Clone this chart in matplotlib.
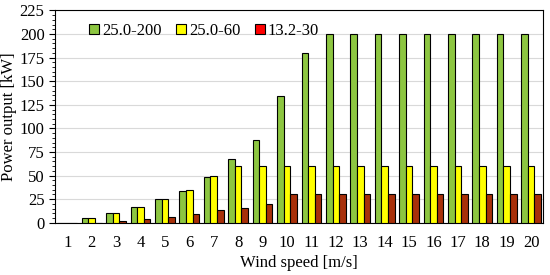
import numpy as np
import matplotlib.pyplot as plt
from matplotlib.ticker import MultipleLocator

plt.rcParams['font.family'] = ['Liberation Serif', 'DejaVu Serif']

wind_speed = list(range(1, 21))
p_200 = [0, 5, 10, 17, 25, 34, 49, 68, 88, 134, 180, 200, 200, 200, 200, 200, 200, 200, 200, 200]
p_60 = [0, 5, 10, 17, 25, 35, 50, 60, 60, 60, 60, 60, 60, 60, 60, 60, 60, 60, 60, 60]
p_30 = [0, 0, 2, 4, 6, 9, 13, 16, 20, 30, 30, 30, 30, 30, 30, 30, 30, 30, 30, 30]
labels = ["25.0-200", "25.0-60", "13.2-30"]

fig, ax = plt.subplots(figsize=(5.5, 2.75), dpi=100)
fig.subplots_adjust(left=0.1, right=0.988, top=0.962, bottom=0.19)

x = np.arange(len(wind_speed))
w = 0.27
ax.bar(x - w, p_200, w, color='#8DC641', edgecolor='black', linewidth=0.8, label=labels[0], zorder=3)
ax.bar(x, p_60, w, color='#FFFF00', edgecolor='black', linewidth=0.8, label=labels[1], zorder=3)
ax.bar(x + w, p_30, w, color='#A8300A', edgecolor='black', linewidth=0.8, label=labels[2], zorder=3)

ax.set_xlim(-0.5, len(wind_speed) - 0.5)
ax.set_ylim(0, 225)
ax.set_xticks(x)
ax.set_xticklabels([str(v) for v in wind_speed])
ax.yaxis.set_major_locator(MultipleLocator(25))
ax.yaxis.set_minor_locator(MultipleLocator(5))
ax.tick_params(axis='x', length=0, labelsize=12, pad=9)
ax.tick_params(axis='y', which='major', direction='out', length=4, labelsize=12)
ax.tick_params(axis='y', which='minor', direction='out', length=2)
ax.grid(axis='y', color='#D9D9D9', linewidth=0.8, zorder=0)
for s in ax.spines.values():
    s.set_linewidth(0.8)

ax.set_xlabel("Wind speed [m/s]", fontsize=12, labelpad=3)
ax.set_ylabel("Power output [kW]", fontsize=12, labelpad=2)

leg = ax.legend(loc='upper left', bbox_to_anchor=(0.045, 1.0), ncol=3, frameon=False,
                fontsize=12, handlelength=0.55, handleheight=0.55, handletextpad=0.2,
                columnspacing=0.9, borderaxespad=0.35)
leg.legend_handles[2].set_facecolor('#FF0000')

fig.savefig("out.png")
